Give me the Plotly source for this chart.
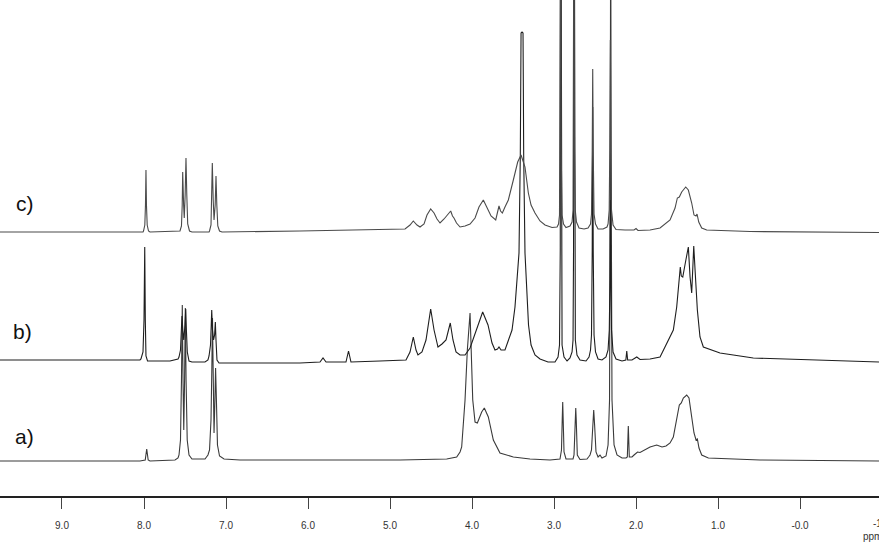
import plotly.graph_objects as go

# ---- spectrum c) : chemical shift (ppm) and intensity above its baseline ----
c_ppm = [9.756, 8.012, 8.006, 7.990, 7.982, 7.976, 7.970, 7.961, 7.945, 7.927,
         7.561, 7.543, 7.534, 7.528, 7.517, 7.509, 7.498, 7.488, 7.478, 7.467, 7.445, 7.415,
         7.207, 7.201, 7.183, 7.173, 7.167, 7.156, 7.146, 7.132, 7.122, 7.112, 7.100, 7.079, 7.049,
         6.098, 5.122, 4.878, 4.817, 4.756, 4.716, 4.671, 4.634, 4.585, 4.549, 4.504, 4.463, 4.427,
         4.390, 4.341, 4.293, 4.260, 4.238, 4.220, 4.189, 4.146, 4.085, 4.024, 3.963, 3.915, 3.862,
         3.817, 3.768, 3.711, 3.689, 3.671, 3.652, 3.630, 3.598, 3.557, 3.496, 3.443, 3.402, 3.354,
         3.313, 3.280, 3.232, 3.171, 3.110, 3.024, 2.963, 2.945, 2.933, 2.924, 2.918, 2.912, 2.902,
         2.884, 2.854, 2.805, 2.780, 2.768, 2.762, 2.756, 2.750, 2.741, 2.726, 2.695, 2.634, 2.585,
         2.555, 2.543, 2.534, 2.528, 2.522, 2.512, 2.494, 2.463, 2.402, 2.354, 2.341, 2.327, 2.320,
         2.313, 2.307, 2.299, 2.280, 2.244, 2.134, 2.049, 2.024, 2.000, 1.976, 1.829, 1.707, 1.585,
         1.524, 1.496, 1.472, 1.443, 1.394, 1.362, 1.321, 1.293, 1.268, 1.256, 1.235, 1.199, 1.138,
         0.610, -0.963]
c_int = [0, 0, 1, 7, 27, 62, 27, 7, 1, 0,
         1, 6, 27, 60, 27, 14, 37, 74, 37, 8, 1, 0,
         0, 1, 7, 32, 69, 32, 12, 27, 56, 27, 6, 1, 0,
         1, 2, 3, 3, 7, 11, 7, 5, 8, 17, 23, 19, 13,
         9, 13, 18, 21, 16, 14, 9, 5, 6, 8, 14, 25, 32,
         25, 16, 12, 20, 26, 21, 19, 25, 32, 52, 70, 77, 65,
         39, 27, 19, 11, 7, 4.5, 5, 8, 17, 82, 400, 82, 17,
         8, 4.5, 6, 10, 22, 82, 400, 82, 22, 10, 4, 3, 4,
         8, 18, 82, 163, 82, 18, 8, 3, 3, 5, 8, 22, 82,
         192, 82, 22, 7, 2.5, 2, 2, 2, 3.5, 1.5, 2, 4, 12,
         24, 34, 35, 40, 45, 42, 29, 17, 16, 18, 10, 4, 2,
         0.5, -0.5]

# ---- spectrum b) ----
b_ppm = [9.756, 8.049, 8.037, 8.012, 8.000, 7.991, 7.984, 7.976, 7.957, 7.927, 7.683, 7.585,
         7.573, 7.555, 7.543, 7.537, 7.527, 7.515, 7.500, 7.491, 7.483, 7.472, 7.451, 7.415,
         7.256, 7.220, 7.207, 7.189, 7.180, 7.174, 7.165, 7.152, 7.139, 7.130, 7.122, 7.110,
         7.085, 6.951, 6.098, 5.854, 5.817, 5.780, 5.537, 5.506, 5.476, 5.122, 4.878, 4.805,
         4.756, 4.716, 4.683, 4.659, 4.610, 4.561, 4.504, 4.463, 4.415, 4.366, 4.317, 4.265,
         4.232, 4.195, 4.146, 4.085, 4.024, 3.951, 3.870, 3.805, 3.756, 3.720, 3.689, 3.671,
         3.646, 3.598, 3.557, 3.512, 3.476, 3.427, 3.411, 3.406, 3.402, 3.390, 3.378, 3.374,
         3.370, 3.354, 3.329, 3.311, 3.280, 3.232, 3.171, 3.073, 2.988, 2.951, 2.933, 2.924,
         2.918, 2.912, 2.902, 2.878, 2.841, 2.805, 2.780, 2.768, 2.762, 2.756, 2.750, 2.740,
         2.720, 2.683, 2.610, 2.573, 2.555, 2.543, 2.534, 2.528, 2.522, 2.512, 2.494, 2.463,
         2.415, 2.366, 2.341, 2.326, 2.318, 2.313, 2.307, 2.299, 2.280, 2.244, 2.171, 2.134,
         2.124, 2.113, 2.102, 2.049, 1.991, 1.951, 1.829, 1.707, 1.626, 1.545, 1.504, 1.479,
         1.460, 1.448, 1.430, 1.399, 1.362, 1.341, 1.321, 1.305, 1.296, 1.280, 1.252, 1.220,
         1.179, 0.976, 0.570, -0.963]
b_int = [1, 1, 2, 9, 41, 114, 41, 5, 0, 0, 0, 2,
         4, 11, 31, 45, 31, 21, 36, 52, 31, 9, 0, -1,
         -1, 1, 5, 16, 36, 51, 31, 21, 26, 39, 21, 1,
         -2, -2, -2, -1, 3, -1, -1, 10, -1, 0, 1, 1,
         9, 24, 11, 6, 9, 21, 52, 31, 14, 17, 21, 38,
         21, 9, 6, 6, 13, 31, 49, 36, 18, 11, 12, 14,
         11, 11, 21, 31, 54, 108, 206, 274, 328, 329, 328, 274,
         206, 108, 61, 36, 16, 6, 2, -1, -1, 4, 16, 111,
         600, 111, 16, 4, 0, 3, 9, 21, 111, 600, 111, 21,
         6, 1, 0, 4, 11, 26, 111, 254, 111, 26, 9, 2,
         1, 4, 11, 31, 81, 161, 81, 31, 9, 2, 0, 1,
         1, 10, 1, 1, 4, 1.5, 2, 4, 18, 31, 54, 78,
         94, 85, 84, 98, 114, 84, 68, 98, 115, 91, 51, 24,
         14, 8, 3, -1]

# ---- spectrum a) ----
a_ppm = [9.756, 8.049, 7.985, 7.967, 7.949, 7.927, 7.622, 7.585, 7.573, 7.555, 7.543, 7.533,
         7.524, 7.515, 7.505, 7.496, 7.487, 7.473, 7.451, 7.415, 7.256, 7.220, 7.201, 7.183,
         7.173, 7.165, 7.155, 7.146, 7.135, 7.127, 7.117, 7.104, 7.079, 7.024, 6.829, 6.098,
         4.878, 4.309, 4.187, 4.146, 4.126, 4.085, 4.057, 4.024, 3.991, 3.963, 3.935, 3.882,
         3.850, 3.801, 3.740, 3.659, 3.496, 3.293, 3.049, 2.927, 2.909, 2.900, 2.894, 2.888,
         2.878, 2.854, 2.768, 2.756, 2.741, 2.735, 2.729, 2.716, 2.683, 2.598, 2.579, 2.561,
         2.543, 2.527, 2.516, 2.505, 2.488, 2.463, 2.439, 2.415, 2.366, 2.341, 2.323, 2.315,
         2.309, 2.302, 2.293, 2.268, 2.232, 2.171, 2.122, 2.106, 2.094, 2.082, 2.049, 2.024,
         1.982, 1.951, 1.890, 1.829, 1.748, 1.683, 1.634, 1.585, 1.545, 1.504, 1.472, 1.448,
         1.423, 1.382, 1.354, 1.321, 1.293, 1.268, 1.252, 1.232, 1.199, 1.118, 0.488, -0.963]
a_int = [0, 0, 1, 12, 1, 0, 1, 3, 6, 21, 81, 156,
         81, 31, 81, 153, 81, 21, 6, 2, 2, 6, 11, 41,
         91, 143, 81, 28, 61, 93, 61, 16, 5, 2, 1, 1,
         1, 2, 4, 9, 14, 61, 111, 148, 61, 39, 38, 49,
         53, 44, 21, 8, 4, 2, 1, 2, 11, 41, 59, 41,
         9, 2, 2, 6, 41, 53, 41, 6, 1.5, 2, 4, 6,
         11, 36, 51, 36, 9, 4, 6, 3, 5, 16, 61, 261,
         561, 261, 61, 16, 6, 3, 3, 4, 35, 4, 4, 6,
         9, 8.5, 11, 14, 16, 14, 15, 18, 24, 44, 56, 58,
         63, 66, 63, 44, 28, 21, 22, 13, 6, 3, 1, 0]

# x-axis tick labels
tick_vals = [9, 8, 7, 6, 5, 4, 3, 2, 1, 0]
tick_text = ["9.0", "8.0", "7.0", "6.0", "5.0", "4.0", "3.0", "2.0", "1.0", "-0.0"]
edge_label = "-1.0"
unit_label = "ppm"
spectrum_labels = ["a)", "b)", "c)"]

# stacking offsets (plot style) and line colours
offsets = {"a": 35, "b": 135, "c": 264}
colors = {"a": "#3a3a3a", "b": "#1e1e1e", "c": "#4a4a4a"}

fig = go.Figure()
for key, xs, ys in (("a", a_ppm, a_int), ("b", b_ppm, b_int), ("c", c_ppm, c_int)):
    fig.add_trace(go.Scatter(
        x=xs, y=[v + offsets[key] for v in ys], mode="lines",
        line=dict(color=colors[key], width=1.1), hoverinfo="skip", showlegend=False))

label_pos = {"a)": (0.0284, 0.1196), "b)": (0.0256, 0.3313), "c)": (0.0284, 0.5907)}
for lab in spectrum_labels:
    px, py = label_pos[lab]
    fig.add_annotation(text=lab, xref="paper", yref="paper", x=px, y=py,
                       xanchor="center", yanchor="middle", showarrow=False,
                       font=dict(family="Liberation Sans, Arial", size=21, color="#111"))

# partially visible "-1" label at the right edge, and the unit label
fig.add_annotation(text=edge_label, xref="paper", yref="paper", x=1.0034, y=-0.055,
                   xanchor="center", yanchor="middle", showarrow=False,
                   font=dict(family="Liberation Sans, Arial", size=10, color="#333"))
fig.add_annotation(text=unit_label, xref="paper", yref="paper", x=0.9795, y=-0.082,
                   xanchor="left", yanchor="middle", showarrow=False,
                   font=dict(family="Liberation Sans, Arial", size=10, color="#333"))

fig.update_layout(
    width=879, height=549,
    margin=dict(l=0, r=0, t=0, b=53, autoexpand=False),
    paper_bgcolor="white", plot_bgcolor="white",
    xaxis=dict(range=[9.756, -0.963], showgrid=False, zeroline=False,
               showline=True, linecolor="#222", linewidth=1.5,
               ticks="outside", ticklen=11, tickwidth=1, tickcolor="#444",
               tickvals=tick_vals, ticktext=tick_text, ticklabelstandoff=8,
               tickfont=dict(family="Liberation Sans, Arial", size=10, color="#333")),
    yaxis=dict(range=[0, 496], visible=False, showgrid=False, zeroline=False),
)

fig.write_html(
    "out.html",
    config={"responsive": False, "displayModeBar": False},
    post_script="document.body.style.margin='0';document.body.style.overflow='hidden';",
)
